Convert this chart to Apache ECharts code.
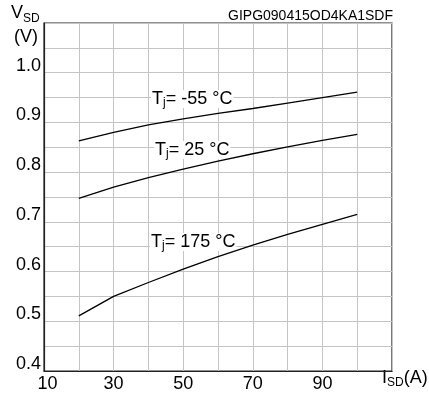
<!DOCTYPE html>
<html><head><meta charset="utf-8">
<script src="https://cdn.jsdelivr.net/npm/echarts@6/dist/echarts.min.js"></script>
<style>html,body{margin:0;padding:0;background:#fff}#c{width:429px;height:397px}</style>
</head><body><div id="c"></div>
<script>
const currents = [20, 30, 40, 50, 60, 70, 80, 90, 100];
const vM55 = [0.863, 0.880, 0.895, 0.907, 0.918, 0.928, 0.939, 0.950, 0.961];
const v25 = [0.747, 0.770, 0.789, 0.806, 0.822, 0.837, 0.851, 0.864, 0.876];
const v175 = [0.511, 0.550, 0.578, 0.605, 0.630, 0.653, 0.675, 0.695, 0.715];
const seriesNames = ['-55 °C', '25 °C', '175 °C'];
const xTickLabels = [10, 30, 50, 70, 90];
const yTickLabels = [0.4, 0.5, 0.6, 0.7, 0.8, 0.9, 1.0];

const font = 'Liberation Sans, Arial, sans-serif';
const chart = echarts.init(document.getElementById('c'), null, {renderer: 'canvas'});
const pairs = arr => currents.map((x, i) => [x, arr[i]]);
const lineStyle = {color: '#000', width: 1.3};
const mk = (name, data) => ({type: 'line', name, data: pairs(data), showSymbol: false, symbol: 'none', lineStyle, silent: true, z: 5});

const tjLabel = (txt, x, y) => ({
  type: 'text', left: x, top: y, z: 1,
  style: {
    text: '{t|T}{s|j}{t|= ' + txt + '}',
    backgroundColor: '#fff', padding: [0, 1, 0, 1],
    rich: {
      t: {fontFamily: font, fontSize: 18, lineHeight: 18, fill: '#000', color: '#000'},
      s: {fontFamily: font, fontSize: 12, lineHeight: 12, fill: '#000', color: '#000', padding: [8, 0, 0, 0]}
    }
  }
});

chart.setOption({
  animation: false,
  backgroundColor: '#fff',
  grid: {left: 44, right: 37, top: 23, bottom: 26, show: true, borderColor: '#222', borderWidth: 1.2, backgroundColor: 'transparent'},
  xAxis: {
    type: 'value', min: 10, max: 110, interval: 10,
    axisLine: {show: true, lineStyle: {color: '#222', width: 1.2}},
    axisTick: {show: false},
    splitLine: {show: true, lineStyle: {color: '#c4c4c4', width: 1}},
    axisLabel: {
      margin: 4, color: '#000', fontFamily: font, fontSize: 18,
      formatter: v => xTickLabels.includes(v) ? (v === 10 ? '{f|10}' : String(v)) : '',
      rich: {f: {fontFamily: font, fontSize: 18, color: '#000', padding: [0, 0, 0, 7]}}
    }
  },
  yAxis: {
    type: 'value', min: 0.4, max: 1.1, interval: 0.05,
    axisLine: {show: true, lineStyle: {color: '#222', width: 1.2}},
    axisTick: {show: false},
    splitLine: {show: true, lineStyle: {color: '#c4c4c4', width: 1}},
    axisLabel: {
      margin: 3, color: '#000', fontFamily: font, fontSize: 18, verticalAlign: 'bottom', lineHeight: 14,
      formatter: v => {
        const r = Math.round(v * 100) / 100;
        return yTickLabels.some(t => Math.abs(t - r) < 1e-6) ? r.toFixed(1) : '';
      }
    }
  },
  series: [mk(seriesNames[0], vM55), mk(seriesNames[1], v25), mk(seriesNames[2], v175)],
  graphic: [
    tjLabel(seriesNames[0], 151, 89),
    tjLabel(seriesNames[1], 154, 140),
    tjLabel(seriesNames[2], 150, 232),
    {type: 'text', right: 36, top: 9, style: {text: 'GIPG090415OD4KA1SDF', fontFamily: font, fontSize: 14, fill: '#000'}},
    {type: 'text', left: 11, top: 4, style: {text: '{t|V}{s|SD}', rich: {t: {fontFamily: font, fontSize: 18, fill: '#000'}, s: {fontFamily: font, fontSize: 12, fill: '#000', padding: [11, 0, 0, 0]}}}},
    {type: 'text', left: 14, top: 28, style: {text: '(V)', fontFamily: font, fontSize: 18, fill: '#000'}},
    {type: 'text', left: 382, top: 369, style: {text: '{t|I}{s|SD}{t|(A)}', rich: {t: {fontFamily: font, fontSize: 18, fill: '#000'}, s: {fontFamily: font, fontSize: 12, fill: '#000', padding: [10, 0, 0, 0]}}}}
  ]
});
</script></body></html>
